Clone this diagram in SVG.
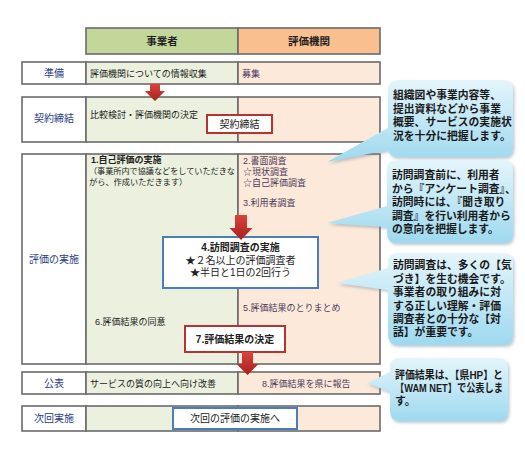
<svg xmlns="http://www.w3.org/2000/svg" width="525" height="463" viewBox="0 0 525 463">
<defs>
<linearGradient id="cg" x1="0" y1="0" x2="0" y2="1">
<stop offset="0" stop-color="#E4F5FB"/>
<stop offset="1" stop-color="#9ED9EF"/>
</linearGradient>
<linearGradient id="ag" x1="0" y1="0" x2="0" y2="1">
<stop offset="0" stop-color="#D9443C"/>
<stop offset="1" stop-color="#A8201C"/>
</linearGradient>
<filter id="sh" x="-10%" y="-10%" width="125%" height="130%">
<feDropShadow dx="1.5" dy="2" stdDeviation="1.5" flood-color="#6a8a99" flood-opacity="0.45"/>
</filter>
</defs>
<style>
text{font-family:"Liberation Sans","Noto Sans CJK JP",sans-serif;}
.cell{stroke:#6b6b6b;stroke-width:1.6;}
.lab{fill:#fff;}
.g{fill:#EBF1DE;}
.o{fill:#FDE9D9;}
.gh{fill:#C4D79B;}
.oh{fill:#FABF8F;}
.rl{font-size:10px;fill:#1F3C88;text-anchor:middle;}
.hd{font-size:10.5px;font-weight:bold;fill:#222;text-anchor:middle;}
.t{font-size:9px;fill:#222;}
.te{font-size:9px;fill:#4B3B5B;}
.b{font-weight:bold;}
.redbox{fill:#fff;stroke:#B83232;stroke-width:2;}
.bluebox{fill:#fff;stroke:#4A7EBB;stroke-width:2;}
.bx{font-size:10px;fill:#222;text-anchor:middle;}
.arrow{fill:url(#ag);}
.call{fill:url(#cg);filter:url(#sh);}
.ct{font-size:10.8px;font-weight:bold;fill:#1a1a1a;}
</style>

<g id="header">
<rect class="cell gh" x="86" y="28" width="152" height="26"/>
<rect class="cell oh" x="238" y="28" width="142" height="26"/>
<text class="hd" x="162" y="45">事業者</text>
<text class="hd" x="309" y="45">評価機関</text>
</g>

<g id="row-junbi">
<rect class="cell lab" x="22" y="62" width="64" height="22"/>
<rect class="cell g" x="86" y="62" width="152" height="22"/>
<rect class="cell o" x="238" y="62" width="142" height="22"/>
<text class="rl" x="54" y="77">準備</text>
<text class="t" x="90" y="76.5">評価機関についての情報収集</text>
<text class="te" x="242" y="76.5">募集</text>
</g>

<g id="row-keiyaku">
<rect class="cell lab" x="22" y="97" width="64" height="45"/>
<rect class="cell g" x="86" y="97" width="152" height="45"/>
<rect class="cell o" x="238" y="97" width="142" height="45"/>
<text class="rl" x="54" y="122">契約締結</text>
<text class="t" x="90" y="118">比較検討・評価機関の決定</text>
</g>

<g id="row-jisshi">
<rect class="cell lab" x="22" y="154" width="64" height="210"/>
<rect class="cell g" x="86" y="154" width="152" height="210"/>
<rect class="cell o" x="238" y="154" width="142" height="210"/>
<text class="rl" x="54" y="263">評価の実施</text>
<text class="t b" x="91" y="163">1.自己評価の実施</text>
<text class="t" x="89" y="174" textLength="146" lengthAdjust="spacingAndGlyphs" style="font-size:8.2px">（事業所内で協議などをしていただきな</text>
<text class="t" x="89" y="185" style="font-size:8.2px">がら、作成いただきます）</text>
<text class="te" x="243" y="164">2.書面調査</text>
<text class="te" x="243" y="175">☆現状調査</text>
<text class="te" x="243" y="185.5">☆自己評価調査</text>
<text class="te" x="243" y="206">3.利用者調査</text>
<text class="te" x="243" y="311">5.評価結果のとりまとめ</text>
<text class="t" x="95" y="325">6.評価結果の同意</text>
</g>

<g id="row-kohyo">
<rect class="cell lab" x="22" y="372" width="64" height="22"/>
<rect class="cell g" x="86" y="372" width="152" height="22"/>
<rect class="cell o" x="238" y="372" width="142" height="22"/>
<text class="rl" x="54" y="387">公表</text>
<text class="t" x="90" y="386.5">サービスの質の向上へ向け改善</text>
<text class="te" x="262" y="386.5">8.評価結果を県に報告</text>
</g>

<g id="row-jikai">
<rect class="cell lab" x="22" y="406" width="64" height="25"/>
<rect class="cell g" x="86" y="406" width="152" height="25"/>
<rect class="cell o" x="238" y="406" width="142" height="25"/>
<text class="rl" x="54" y="422">次回実施</text>
</g>

<g id="box-keiyaku">
<rect class="redbox" x="207" y="115" width="65" height="18"/>
<text class="bx" x="239.5" y="128">契約締結</text>
</g>

<g id="box-houmon">
<rect class="bluebox" x="163" y="237" width="155" height="51"/>
<text class="bx b" x="240.5" y="251">4.訪問調査の実施</text>
<text class="bx" x="240.5" y="263.5">★２名以上の評価調査者</text>
<text class="bx" x="240.5" y="276">★半日と1日の2回行う</text>
</g>

<g id="box-kettei">
<rect class="redbox" x="185" y="326" width="100" height="26"/>
<text class="bx b" x="235" y="343">7.評価結果の決定</text>
</g>

<g id="box-jikai">
<rect class="bluebox" x="173" y="408" width="124" height="21"/>
<text class="bx" x="235" y="422">次回の評価の実施へ</text>
</g>

<g id="connectors">
<path class="arrow" d="M150 84 H160 V91 H165 L155 101 L145 91 H150 Z"/>
<path class="arrow" d="M235 215 H247 V228 H252.5 L241 240 L229.5 228 H235 Z"/>
<path class="arrow" d="M242 352 H253 V364 H258.5 L247.5 375 L236.5 364 H242 Z"/>
</g>

<g id="callout-1">
<path class="call" d="M398 80 H503 Q513 80 513 90 V147 Q513 157 503 157 H398 Q388 157 388 147 V150 L327 162 L388 128 V90 Q388 80 398 80 Z"/>
<text class="ct" x="393" y="99">組織図や事業内容等、</text>
<text class="ct" x="393" y="112.5">提出資料などから事業</text>
<text class="ct" x="393" y="126">概要、サービスの実施状</text>
<text class="ct" x="393" y="139.5">況を十分に把握します。</text>
</g>

<g id="callout-2">
<path class="call" d="M397 160 H503 Q513 160 513 170 V233 Q513 243 503 243 H397 Q387 243 387 233 V227 L327 223 L387 206 V170 Q387 160 397 160 Z"/>
<text class="ct" x="392" y="179">訪問調査前に、利用者</text>
<text class="ct" x="392" y="192.5">から『アンケート調査』、</text>
<text class="ct" x="392" y="206">訪問時には、『聞き取り</text>
<text class="ct" x="392" y="219.5">調査』を行い利用者から</text>
<text class="ct" x="392" y="233">の意向を把握します。</text>
</g>

<g id="callout-3">
<path class="call" d="M398 253 H503 Q513 253 513 263 V335 Q513 345 503 345 H398 Q388 345 388 335 V290 L337 283 L388 268 V263 Q388 253 398 253 Z"/>
<text class="ct" x="393" y="269">訪問調査は、多くの【気</text>
<text class="ct" x="393" y="282.5">づき】を生む機会です。</text>
<text class="ct" x="393" y="296">事業者の取り組みに対</text>
<text class="ct" x="393" y="309.5">する正しい理解・評価</text>
<text class="ct" x="393" y="323">調査者との十分な【対</text>
<text class="ct" x="393" y="336">話】が重要です。</text>
</g>

<g id="callout-4">
<path class="call" d="M400 358 H498 Q508 358 508 368 V411 Q508 421 498 421 H400 Q390 421 390 411 V392 L367 383 L390 372 V368 Q390 358 400 358 Z"/>
<text class="ct" x="395" y="379" textLength="108" lengthAdjust="spacingAndGlyphs">評価結果は、【県HP】と</text>
<text class="ct" x="395" y="392" textLength="108" lengthAdjust="spacingAndGlyphs">【WAM NET】で公表しま</text>
<text class="ct" x="395" y="405">す。</text>
</g>
</svg>
